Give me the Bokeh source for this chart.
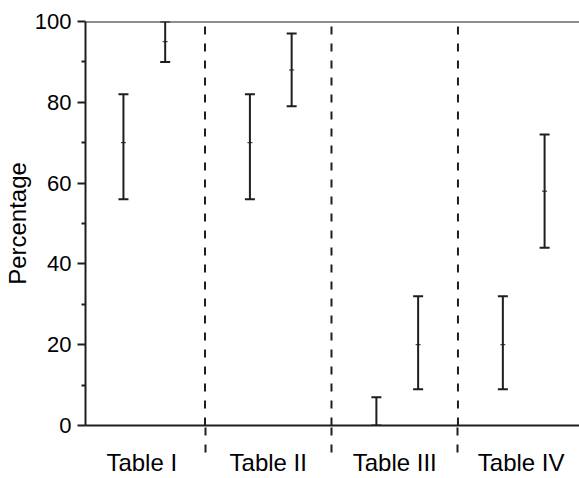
from bokeh.plotting import figure
from bokeh.models import Range1d, FixedTicker, Span, ColumnDataSource
from bokeh.embed import file_html
from bokeh.resources import INLINE

# ---- data ----
groups = ["Table I", "Table II", "Table III", "Table IV"]
low_a = [56, 56, 0, 9]
high_a = [82, 82, 7, 32]
mid_a = [70, 70, 0, 20]
low_b = [90, 79, 9, 44]
high_b = [100, 97, 32, 72]
mid_b = [95, 88, 20, 58]
y_ticks = [0, 20, 40, 60, 80, 100]
y_minor = [10, 30, 50, 70, 90]

FONT = "Liberation Sans"
INK = "#1e1e1e"
pos = [1, 2, 3, 4]
seps = [1.5, 2.5, 3.5]
off_a, off_b = -0.145, 0.185

p = figure(width=579, height=478, output_backend="svg",
           toolbar_location=None, x_range=Range1d(0.555, 4.461),
           y_range=Range1d(0, 100), min_border_left=83, min_border_right=0,
           min_border_top=21, min_border_bottom=53)
p.outline_line_color = None
p.grid.grid_line_color = None
p.background_fill_color = "white"

# x axis
xa = p.xaxis[0]
xa.ticker = FixedTicker(ticks=pos, minor_ticks=seps)
xa.major_label_overrides = {i: g for i, g in zip(pos, groups)}
xa.major_tick_line_color = None
xa.major_tick_out = 0
xa.major_tick_in = 0
xa.minor_tick_out = 27
xa.minor_tick_in = 0
xa.minor_tick_line_width = 2
xa.minor_tick_line_dash = "8 9"
xa.minor_tick_line_color = INK
xa.axis_line_width = 2
xa.axis_line_color = INK
xa.major_label_standoff = -4
xa.major_label_text_font = FONT
xa.major_label_text_font_size = "24px"
xa.major_label_text_color = "black"

# y axis
ya = p.yaxis[0]
ya.ticker = FixedTicker(ticks=y_ticks, minor_ticks=y_minor)
ya.major_tick_out = 8
ya.major_tick_in = 0
ya.minor_tick_out = 4
ya.minor_tick_in = 0
ya.major_tick_line_width = 2
ya.minor_tick_line_width = 2
ya.major_tick_line_color = INK
ya.minor_tick_line_color = INK
ya.axis_line_width = 2
ya.axis_line_color = INK
ya.major_label_standoff = 6
ya.major_label_text_font = FONT
ya.major_label_text_font_size = "22px"
ya.major_label_text_color = "black"
ya.axis_label = "Percentage"
ya.axis_label_text_font = FONT
ya.axis_label_text_font_size = "24px"
ya.axis_label_text_font_style = "normal"
ya.axis_label_text_color = "black"
ya.axis_label_standoff = 1

# top border line
p.add_layout(Span(location=100, dimension="width", line_color=INK, line_width=2))

# dashed separators inside frame
p.segment(x0=seps, y0=[0] * 3, x1=seps, y1=[100] * 3,
          line_color=INK, line_width=2, line_dash="8 9")

for off, lo, hi, mid in [(off_a, low_a, high_a, mid_a), (off_b, low_b, high_b, mid_b)]:
    xs = [x + off for x in pos]
    src = ColumnDataSource(dict(x=xs, lo=lo, hi=hi, mid=mid))
    p.segment(x0="x", y0="lo", x1="x", y1="hi", source=src,
              line_color=INK, line_width=2)
    p.scatter(x="x", y="lo", marker="dash", size=10, line_width=2,
              line_color=INK, source=src)
    p.scatter(x="x", y="hi", marker="dash", size=10, line_width=2,
              line_color=INK, source=src)
    p.scatter(x="x", y="mid", marker="dash", size=5, line_width=1,
              line_color=INK, source=src)

open("out.html", "w").write(file_html(p, INLINE))
